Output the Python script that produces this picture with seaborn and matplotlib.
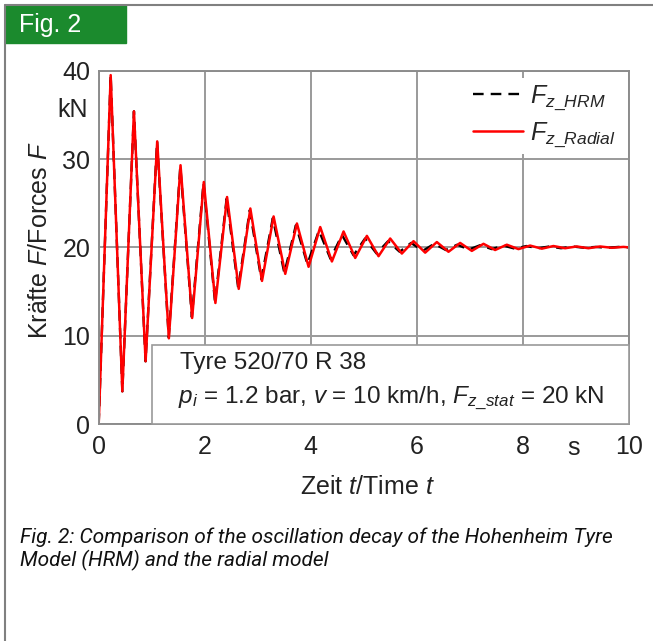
import pandas as pd
import seaborn as sns
from matplotlib import pyplot as plt
from matplotlib.lines import Line2D
from matplotlib.patches import Rectangle

# extrema of the radial model curve (time in s, force in kN)
t_radial = [0, 0.226, 0.446, 0.665, 0.885, 1.104, 1.324, 1.544, 1.763, 1.983, 2.202, 2.422, 2.642,
            2.861, 3.081, 3.30, 3.52, 3.74, 3.96, 4.18, 4.40, 4.62, 4.84, 5.06, 5.28, 5.50, 5.72,
            5.94, 6.16, 6.38, 6.60, 6.82, 7.04, 7.26, 7.48, 7.70, 7.92, 8.14, 8.36, 8.58, 8.80,
            9.02, 9.24, 9.46, 9.68, 9.90, 10.0]
f_radial = [0, 39.5, 3.7, 35.4, 7.1, 32.0, 9.7, 29.3, 12.0, 27.4, 13.7, 25.7, 15.3,
            24.4, 16.2, 23.5, 17.0, 22.7, 17.8, 22.3, 18.4, 21.8, 18.8, 21.3, 19.0, 21.0, 19.3,
            20.7, 19.4, 20.6, 19.5, 20.5, 19.6, 20.4, 19.7, 20.3, 19.8, 20.2, 19.85, 20.15, 19.9,
            20.1, 19.9, 20.1, 19.95, 20.05, 20.0]

# extrema of the HRM curve (phase runs slightly ahead, decays a bit faster)
t_hrm = [0, 0.226, 0.446, 0.665, 0.884, 1.102, 1.321, 1.540, 1.758, 1.977, 2.195, 2.413, 2.632,
         2.850, 3.068, 3.285, 3.503, 3.72, 3.938, 4.155, 4.373, 4.59, 4.808, 5.025, 5.243, 5.46,
         5.678, 5.895, 6.113, 6.33, 6.548, 6.765, 6.983, 7.20, 7.418, 7.635, 7.853, 8.07, 8.288,
         8.505, 8.723, 8.94, 9.158, 9.375, 9.593, 9.81, 10.0]
f_hrm = [0, 39.5, 3.7, 35.4, 7.1, 32.0, 9.8, 29.2, 12.1, 27.3, 13.8, 25.5, 15.4,
         24.2, 16.4, 23.3, 17.1, 22.5, 18.1, 21.9, 18.7, 21.4, 19.1, 21.0, 19.3, 20.7,
         19.5, 20.5, 19.6, 20.4, 19.7, 20.3, 19.75, 20.25, 19.8, 20.2, 19.85, 20.15, 19.9,
         20.1, 19.9, 20.1, 19.95, 20.05, 19.95, 20.05, 20.0]

x_ticks = [0, 2, 4, 6, 8, 10]
y_ticks = [0, 10, 20, 30, 40]

GRID = '#9a9a9a'
TXT = '#222222'
DASH = (0, (4.5, 3))


def setup():
    sns.set_style('white')
    plt.rcParams['font.family'] = ['Liberation Sans', 'DejaVu Sans']
    plt.rcParams['mathtext.fontset'] = 'custom'
    plt.rcParams['mathtext.rm'] = 'Liberation Sans'
    plt.rcParams['mathtext.it'] = 'Liberation Sans:italic'


def main():
    setup()
    fig = plt.figure(figsize=(6.53, 6.41), dpi=100)
    W, H = 653, 641

    # outer page frame and green label
    fig.add_artist(Line2D([5 / W, 1], [1 - 5 / H] * 2, color='#808080', lw=1.5))
    fig.add_artist(Line2D([5 / W] * 2, [0, 1 - 5 / H], color='#808080', lw=1.5))
    fig.add_artist(Rectangle((5 / W, 1 - 43 / H), 121 / W, 38 / H, color='#1b8a2d',
                             transform=fig.transFigure))
    fig.text(19 / W, 1 - 25 / H, 'Fig. 2', color='white', fontsize=18, va='center')

    ax = fig.add_axes([98.7 / W, 217 / H, 530 / W, 353.3 / H])

    df_rad = pd.DataFrame({'t': t_radial, 'F': f_radial})
    df_hrm = pd.DataFrame({'t': t_hrm, 'F': f_hrm})
    sns.lineplot(data=df_hrm, x='t', y='F', color='black', lw=1.7, sort=False,
                 estimator=None, ax=ax, linestyle=DASH)
    sns.lineplot(data=df_rad, x='t', y='F', color='#ff0000', lw=1.8, sort=False,
                 estimator=None, ax=ax, solid_joinstyle='round')

    ax.set_xlim(0, 10)
    ax.set_ylim(0, 40)
    ax.set_xticks(x_ticks)
    ax.set_yticks(y_ticks)
    ax.set_xticklabels(['0', '2', '4', '6', '8', '10'])
    ax.tick_params(length=0, labelsize=18, colors=TXT)
    ax.tick_params(axis='x', pad=8)
    ax.tick_params(axis='y', pad=6)
    ax.grid(True, color=GRID, lw=1.4)
    ax.set_axisbelow(True)
    for sp in ax.spines.values():
        sp.set_color('#8c8c8c')
        sp.set_linewidth(1.4)
    ax.set_xlabel('')
    ax.set_ylabel('')

    # unit labels
    ax.text(-0.02, 35.5, 'kN', fontsize=18, ha='right', va='center', color=TXT,
            transform=ax.get_yaxis_transform())
    ax.text(8.95, -0.068, 's', fontsize=18, ha='center', va='center', color=TXT,
            transform=ax.get_xaxis_transform())

    # info box
    ax.add_patch(Rectangle((1.0, 0), 9.0, 8.95, facecolor='white', edgecolor='#9a9a9a',
                           lw=1.2, zorder=3, clip_on=False))
    ax.text(1.53, 6.85, 'Tyre 520/70 R 38', fontsize=17.5, va='center', color=TXT, zorder=4)
    ax.text(1.5, 2.95, r'$p_i$ = 1.2 bar, $v$ = 10 km/h, $F_{z\_stat}$ = 20 kN',
            fontsize=17.5, va='center', color=TXT, zorder=4)

    handles = [Line2D([], [], color='black', lw=1.7, linestyle=DASH),
               Line2D([], [], color='#ff0000', lw=1.8)]
    leg = ax.legend(handles, [r'$F_{z\_HRM}$', r'$F_{z\_Radial}$'], loc='upper right',
                    fontsize=18, frameon=True, framealpha=1, edgecolor='none',
                    facecolor='white', handlelength=2.0, handletextpad=0.3,
                    labelspacing=0.3, borderpad=0.2, borderaxespad=0.3, fancybox=False)
    leg.set_zorder(5)

    fig.text(40 / W, 1 - 240 / H, r'Kräfte $F$/Forces $F$', rotation=90, fontsize=18,
             ha='center', va='center', color=TXT)
    fig.text(367 / W, 1 - 487 / H, r'Zeit $t$/Time $t$', fontsize=18,
             ha='center', va='center', color=TXT)

    cap = ('Fig. 2: Comparison of the oscillation decay of the Hohenheim Tyre\n'
           'Model (HRM) and the radial model')
    fig.text(20 / W, 1 - 527 / H, cap, fontsize=15, style='italic', va='top',
             family=['Liberation Sans Narrow', 'Roboto', 'DejaVu Sans'], linespacing=1.2,
             color='#111111')

    fig.savefig('out.png', dpi=100)


if __name__ == '__main__':
    main()
